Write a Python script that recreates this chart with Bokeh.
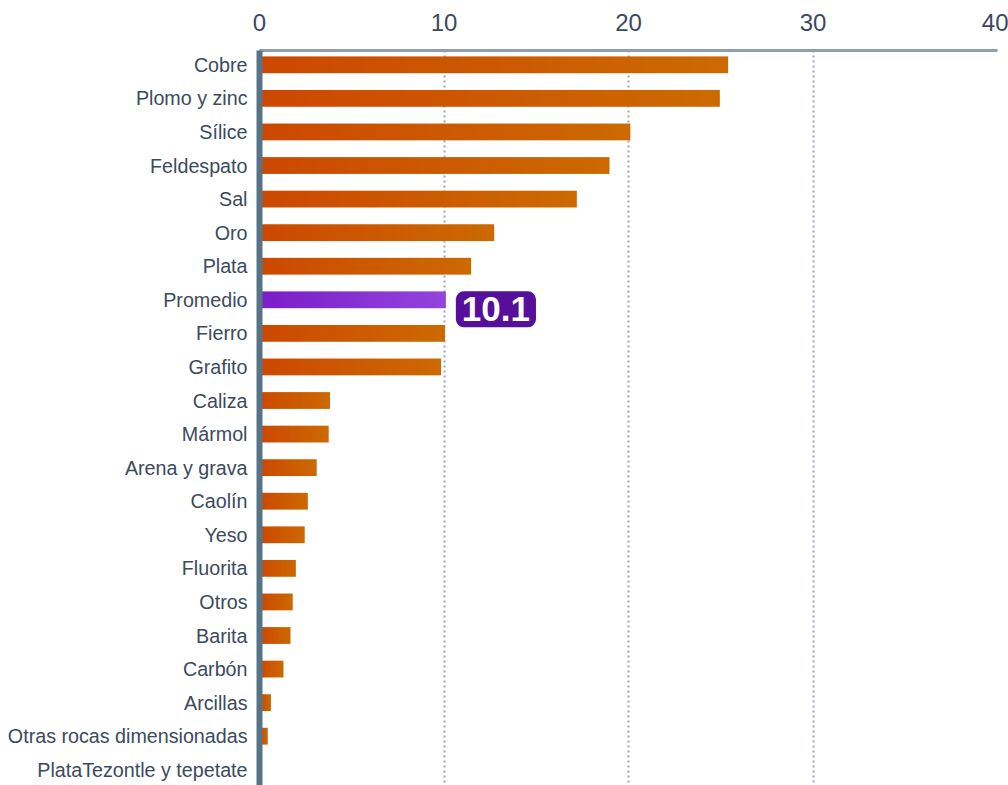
import numpy as np
from bokeh.plotting import figure
from bokeh.models import Range1d, FixedTicker, Label
from bokeh.embed import file_html
from bokeh.resources import INLINE

categories = ["Cobre", "Plomo y zinc", "Sílice", "Feldespato", "Sal", "Oro", "Plata",
              "Promedio", "Fierro", "Grafito", "Caliza", "Mármol", "Arena y grava",
              "Caolín", "Yeso", "Fluorita", "Otros", "Barita", "Carbón", "Arcillas",
              "Otras rocas dimensionadas", "PlataTezontle y tepetate"]
values = [25.4, 24.95, 20.1, 18.97, 17.2, 12.72, 11.47,
          10.1, 10.05, 9.84, 3.82, 3.75, 3.1,
          2.62, 2.45, 1.97, 1.8, 1.68, 1.3, 0.62,
          0.45, 0.0]
x_ticks = [0, 10, 20, 30, 40]
highlight = "Promedio"

FONT = "Liberation Sans"
TXT = "#3b4a5e"

def grad_img(c0, c1, w=64):
    a = np.array([int(c0[i:i + 2], 16) for i in (1, 3, 5)], dtype=float)
    b = np.array([int(c1[i:i + 2], 16) for i in (1, 3, 5)], dtype=float)
    t = (np.arange(w) + 0.5) / w
    rgb = a[None, :] + (b - a)[None, :] * t[:, None]
    rgba = np.zeros((1, w, 4), dtype=np.uint8)
    rgba[0, :, :3] = np.round(rgb).astype(np.uint8)
    rgba[0, :, 3] = 255
    return rgba.view(dtype=np.uint32).reshape((1, w))

n = len(categories)
p = figure(width=1008, height=785, output_backend="svg", toolbar_location=None,
           x_range=Range1d(0, 40), y_range=Range1d(21.468, -0.426),
           x_axis_location="above", min_border_left=259, min_border_right=11,
           min_border_top=50, min_border_bottom=0, outline_line_color=None)

imgs, xs, ys, dws, dhs = [], [], [], [], []
for i, (c, v) in enumerate(zip(categories, values)):
    if v <= 0:
        continue
    c0, c1 = ("#7a1ec8", "#9443dc") if c == highlight else ("#cc4800", "#cc6a00")
    imgs.append(grad_img(c0, c1))
    xs.append(0)
    ys.append(i)
    dws.append(v)
    dhs.append(0.5)
p.image_rgba(image=imgs, x=xs, y=ys, dw=dws, dh=dhs, anchor="center_left")

# axes
xa = p.xaxis[0]
xa.ticker = FixedTicker(ticks=x_ticks)
xa.axis_line_color = "#8d9fb0"
xa.axis_line_width = 3
xa.major_tick_line_color = None
xa.minor_tick_line_color = None
xa.major_label_standoff = 14
xa.major_label_text_font = FONT
xa.major_label_text_font_size = "24px"
xa.major_label_text_color = TXT

ya = p.yaxis[0]
ya.ticker = FixedTicker(ticks=list(range(n)))
ya.major_label_overrides = {i: c for i, c in enumerate(categories)}
ya.axis_line_color = "#577487"
ya.axis_line_width = 6
ya.major_tick_line_color = None
ya.minor_tick_line_color = None
ya.major_label_standoff = 6
ya.major_label_text_font = FONT
ya.major_label_text_font_size = "19.7px"
ya.major_label_text_color = TXT

p.ygrid.grid_line_color = None
p.xgrid.ticker = FixedTicker(ticks=[t for t in x_ticks if 0 < t < 40])
p.xgrid.grid_line_color = "#9aa6b6"
p.xgrid.grid_line_width = 2
p.xgrid.grid_line_dash = "2 3"

hi = categories.index(highlight)
lab = Label(x=values[hi], y=hi, x_offset=10, y_offset=-9.5, text="%.1f" % values[hi],
            text_font=FONT, text_font_style="bold", text_font_size="35px",
            text_color="white", text_align="left", text_baseline="middle",
            background_fill_color="#560f9a", border_radius=8, padding=(6, 6))
p.add_layout(lab)

open("out.html", "w").write(file_html(p, INLINE))
